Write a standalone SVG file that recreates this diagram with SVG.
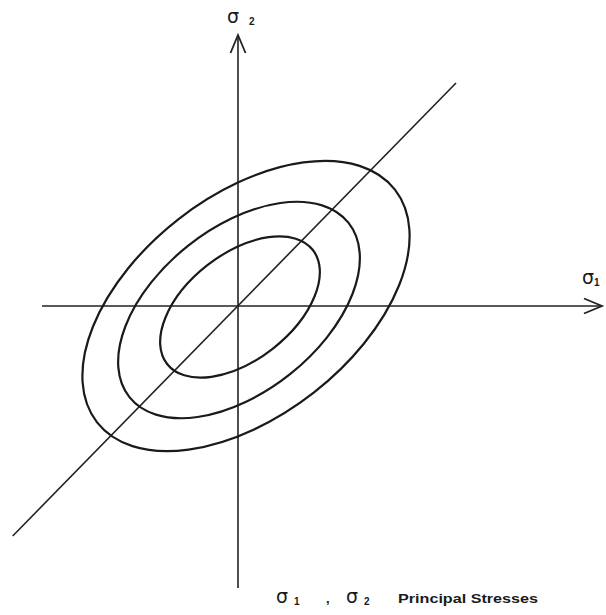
<svg xmlns="http://www.w3.org/2000/svg" width="606" height="615" viewBox="0 0 606 615">
<defs>
<style>
.ax{stroke:#222;stroke-width:1.6;fill:none}
.el{stroke:#1a1a1a;stroke-width:2.2;fill:none}
.sig{font-family:"DejaVu Sans","Liberation Sans",sans-serif;font-size:19px;fill:#1a1a1a}
.sub{font-family:"Liberation Sans","DejaVu Sans",sans-serif;font-size:10px;font-weight:bold;fill:#1a1a1a}
.lbl{font-family:"Liberation Sans","DejaVu Sans",sans-serif;font-size:13px;font-weight:bold;fill:#1a1a1a}
</style>
<marker id="arr" markerUnits="userSpaceOnUse" markerWidth="24" markerHeight="20" refX="20" refY="10" orient="auto" viewBox="0 0 24 20">
<path d="M2,2.5 L20,10 L2,17.5" fill="none" stroke="#222" stroke-width="1.8"/>
</marker>
</defs>
<rect width="606" height="615" fill="#fff"/>
<g id="connectors">
<line id="axis-s1" class="ax" x1="42" y1="306" x2="602" y2="306" marker-end="url(#arr)"/>
<line id="axis-s2" class="ax" x1="238" y1="588" x2="238" y2="35" marker-end="url(#arr)"/>
<line id="diagonal" class="ax" x1="12.7" y1="536" x2="456" y2="83"/>
</g>
<g id="ellipse-inner"><ellipse class="el" cx="240" cy="307" rx="92.5" ry="53" transform="rotate(-38 240 307)"/></g>
<g id="ellipse-middle"><ellipse class="el" cx="239" cy="310" rx="140" ry="82" transform="rotate(-38.5 239 310)"/></g>
<g id="ellipse-outer"><ellipse class="el" cx="246" cy="306" rx="189" ry="110" transform="rotate(-38 246 306)"/></g>
<g id="label-s2"><text class="sig" x="227" y="23">σ</text><text class="sub" x="249" y="25">2</text></g>
<g id="label-s1"><text class="sig" x="582" y="284">σ</text><text class="sub" x="594" y="286">1</text></g>
<g id="caption">
<text class="sig" x="276" y="603">σ</text><text class="sub" x="294" y="605">1</text>
<text class="lbl" x="326" y="603">,</text>
<text class="sig" x="346" y="603">σ</text><text class="sub" x="364" y="605">2</text>
<text class="lbl" x="398" y="603" textLength="140" lengthAdjust="spacingAndGlyphs">Principal Stresses</text>
</g>
</svg>
